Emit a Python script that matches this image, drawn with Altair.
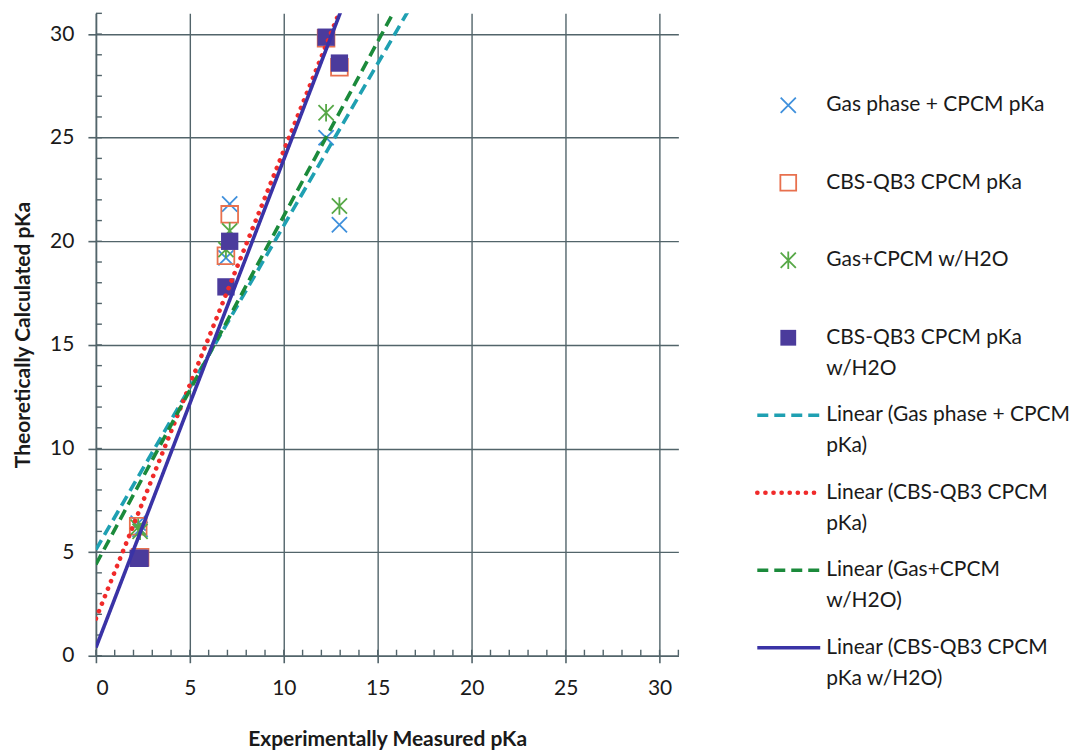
import altair as alt
import pandas as pd

# ---------------- data ----------------
exp_pka = [2.25, 2.35, 6.92, 7.12, 12.25, 12.96]
gas_cpcm = [6.4, 6.1, 19.2, 21.8, 25.0, 20.8]
cbs_cpcm = [6.25, 4.75, 19.3, 21.3, 29.8, 28.4]
gas_cpcm_h2o = [6.2, 6.0, 19.6, 20.5, 26.2, 21.7]
cbs_cpcm_h2o = [4.7, 4.7, 17.8, 20.0, 29.85, 28.6]

series_names = ["Gas phase + CPCM pKa", "CBS-QB3 CPCM pKa",
                "Gas+CPCM w/H2O", "CBS-QB3 CPCM pKa w/H2O"]
series_values = [gas_cpcm, cbs_cpcm, gas_cpcm_h2o, cbs_cpcm_h2o]

major_ticks = [0, 5, 10, 15, 20, 25, 30]
minor_ticks = list(range(0, 32))

legend_line1 = ["Gas phase + CPCM pKa", "CBS-QB3 CPCM pKa", "Gas+CPCM w/H2O",
                "CBS-QB3 CPCM pKa", "Linear (Gas phase + CPCM",
                "Linear (CBS-QB3 CPCM", "Linear (Gas+CPCM", "Linear (CBS-QB3 CPCM"]
legend_line2 = ["", "", "", "w/H2O", "pKa)", "pKa)", "w/H2O)", "pKa w/H2O)"]

# ---------------- styles ----------------
FONT = "Lato"
GRID = "#52646a"
C_BLUE = "#3f90dc"
C_ORANGE = "#e8704e"
C_GREEN = "#57a847"
C_PURPLE = "#4b3b9c"
L_TEAL = "#1fa0b2"
L_RED = "#f02a2a"
L_GREEN = "#1b8a3b"
L_PURPLE = "#3a33a6"
CROSS = "M-1,-1L1,1M-1,1L1,-1"
ASTER = "M-1,-1L1,1M-1,1L1,-1M0,-1.15L0,1.15"

W, H = 583, 643

rows = []
for name, vals in zip(series_names, series_values):
    for xv, yv in zip(exp_pka, vals):
        rows.append({"series": name, "x": xv, "y": yv})
df = pd.DataFrame(rows)

xs = alt.Scale(domain=[0, 31], nice=False, zero=False)
ys = alt.Scale(domain=[0, 31], nice=False, zero=False)
xaxis = alt.Axis(values=major_ticks, grid=True, gridColor=GRID, gridWidth=1.4,
                 domainColor=GRID, domainWidth=1.6, tickColor=GRID, tickWidth=1.6,
                 tickSize=7, labelPadding=15, labelFontSize=21, labelFont=FONT,
                 labelColor="#1a1a1a", title="Experimentally Measured pKa",
                 titleFont=FONT, titleFontSize=21, titleFontWeight="bold",
                 titleColor="#1a1a1a", titlePadding=30)
yaxis = alt.Axis(values=major_ticks, grid=True, gridColor=GRID, gridWidth=1.4,
                 domainColor=GRID, domainWidth=1.6, tickColor=GRID, tickWidth=1.6,
                 tickSize=8, labelPadding=14, labelFontSize=21, labelFont=FONT,
                 labelColor="#1a1a1a", title="Theoretically Calculated pKa",
                 titleFont=FONT, titleFontSize=21, titleFontWeight="bold",
                 titleColor="#1a1a1a", titlePadding=16)
X = alt.X("x:Q", scale=xs, axis=xaxis)
Y = alt.Y("y:Q", scale=ys, axis=yaxis)

base = alt.Chart(df)

def pts(name):
    return base.transform_filter(alt.datum.series == name)

p_gas = pts(series_names[0]).mark_point(shape=CROSS, size=230, stroke=C_BLUE,
                                         strokeWidth=1.8, filled=False, opacity=1).encode(X, Y)
p_cbs = pts(series_names[1]).mark_point(shape="square", size=280, stroke=C_ORANGE,
                                         strokeWidth=1.8, filled=False, opacity=1).encode(X, Y)
p_gh = pts(series_names[2]).mark_point(shape=ASTER, size=230, stroke=C_GREEN,
                                        strokeWidth=1.8, filled=False, opacity=1).encode(X, Y)
p_ch = pts(series_names[3]).mark_point(shape="square", size=300, fill=C_PURPLE,
                                        filled=True, opacity=1, strokeWidth=0).encode(X, Y)

def trend(name, color, dash, width, cap="butt"):
    return (pts(name)
            .transform_regression("x", "y", method="linear", extent=[0, 31])
            .mark_line(color=color, strokeDash=dash, strokeWidth=width,
                       strokeCap=cap, clip=True)
            .encode(X, Y))

t_gas = trend(series_names[0], L_TEAL, [11, 6], 3.6)
t_cbs = trend(series_names[1], L_RED, [0.1, 8], 4.6, "round")
t_gh = trend(series_names[2], L_GREEN, [11, 6], 3.6)
t_ch = trend(series_names[3], L_PURPLE, [1, 0], 3.6)

mx = pd.DataFrame({"x": minor_ticks})
my = pd.DataFrame({"y": minor_ticks})
minor_x = alt.Chart(mx).mark_rule(color=GRID, strokeWidth=1.4).encode(
    X, y=alt.value(H), y2=alt.value(H - 6))
minor_y = alt.Chart(my).mark_rule(color=GRID, strokeWidth=1.4).encode(
    Y, x=alt.value(0), x2=alt.value(6))

plot = alt.layer(minor_x, minor_y, p_gas, p_cbs, p_gh, p_ch,
                 t_gas, t_cbs, t_gh, t_ch).properties(width=W, height=H)

# ---------------- legend panel ----------------
leg = pd.DataFrame({"idx": list(range(8)), "l1": legend_line1, "l2": legend_line2})
LY = alt.Y("idx:Q", scale=alt.Scale(domain=[0, 7], range=[92, 635]), axis=None)
lbase = alt.Chart(leg)

def lsel(i):
    return lbase.transform_filter(alt.datum.idx == i)

SX = 98
lg = [
    lsel(0).mark_point(shape=CROSS, size=230, stroke=C_BLUE, strokeWidth=1.8,
                       filled=False, opacity=1).encode(x=alt.value(SX), y=LY),
    lsel(1).mark_point(shape="square", size=250, stroke=C_ORANGE, strokeWidth=1.8,
                       filled=False, opacity=1).encode(x=alt.value(SX), y=LY),
    lsel(2).mark_point(shape=ASTER, size=230, stroke=C_GREEN, strokeWidth=1.8,
                       filled=False, opacity=1).encode(x=alt.value(SX), y=LY),
    lsel(3).mark_point(shape="square", size=250, fill=C_PURPLE, filled=True,
                       opacity=1, strokeWidth=0).encode(x=alt.value(SX), y=LY),
]
for i, (col, dash, wdt, cap) in zip(range(4, 8), [
        (L_TEAL, [11, 6], 3.6, "butt"), (L_RED, [0.1, 8], 4.6, "round"),
        (L_GREEN, [11, 6], 3.6, "butt"), (L_PURPLE, [1, 0], 3.6, "butt")]):
    lg.append(lsel(i).mark_rule(color=col, strokeDash=dash, strokeWidth=wdt,
                                strokeCap=cap).encode(
        x=alt.value(67), x2=alt.value(130), y=LY))

txt1 = lbase.mark_text(align="left", baseline="middle", font=FONT, fontSize=21,
                       color="#1a1a1a").encode(x=alt.value(136), y=LY, text="l1:N")
txt2 = lbase.mark_text(align="left", baseline="middle", font=FONT, fontSize=21,
                       color="#1a1a1a", dy=31).encode(x=alt.value(136), y=LY, text="l2:N")

legend = alt.layer(*lg, txt1, txt2).properties(width=330, height=H)

chart = (alt.hconcat(plot, legend, spacing=11)
         .properties(padding={"left": 4, "top": 4, "right": 0, "bottom": 0},
                     background="white")
         .configure_view(strokeWidth=0))

chart.save("out.html", embed_options={"renderer": "svg", "actions": False})
